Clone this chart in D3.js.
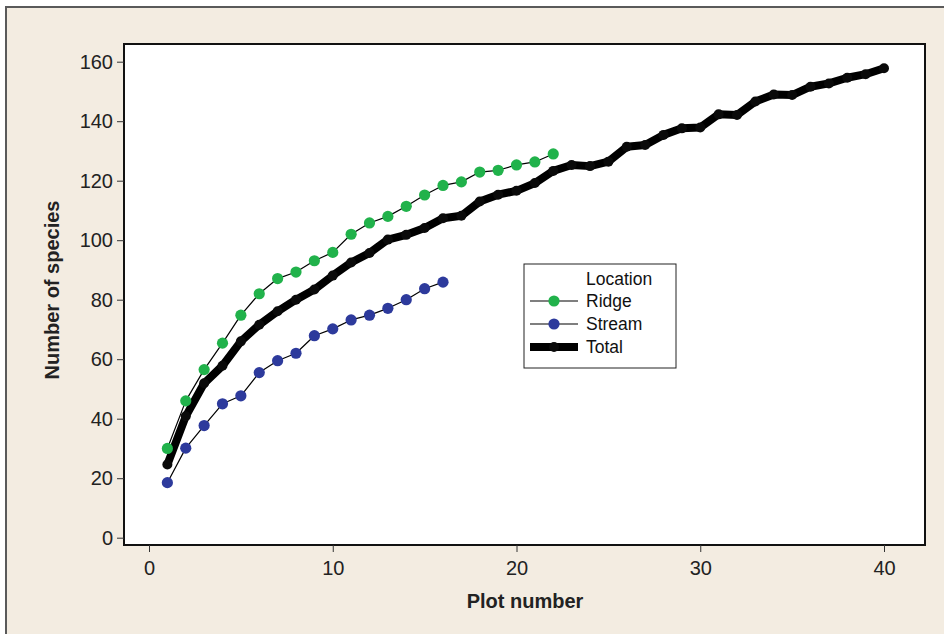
<!DOCTYPE html>
<html>
<head>
<meta charset="utf-8">
<script src="https://cdn.jsdelivr.net/npm/d3@7"></script>
<style>
  html, body { margin: 0; padding: 0; background: #fff; }
  svg { display: block; }
  .tick text { font-family: "Liberation Sans", Arial, sans-serif; font-size: 20px; fill: #222; }
  .axis-title { font-family: "Liberation Sans", Arial, sans-serif; font-size: 20px; font-weight: bold; fill: #222; }
  .legend text { font-family: "Liberation Sans", Arial, sans-serif; font-size: 17.5px; fill: #111; }
</style>
</head>
<body>
<div id="chart"></div>
<script>
// plot numbers
const ridgePlots = d3.range(1, 23);
const streamPlots = d3.range(1, 17);
const totalPlots = d3.range(1, 41);

// cumulative species counts
const ridgeValues = [30, 46, 56.5, 65.4, 74.8, 82, 87.1, 89.3, 93.1, 95.9, 102, 105.8,
  108, 111.4, 115.2, 118.4, 119.6, 122.9, 123.5, 125.3, 126.3, 129];
const streamValues = [18.5, 30.1, 37.7, 45, 47.7, 55.5, 59.5, 62, 67.9, 70.2, 73.2, 74.8,
  77.1, 80, 83.7, 85.9];
const totalValues = [24.6, 40.8, 51.9, 57.8, 66, 71.6, 76.1, 80, 83.4, 88.1, 92.5, 95.7,
  100.2, 101.8, 104.1, 107.4, 108.2, 113, 115.3, 116.6, 119.2, 123.3, 125.3, 124.9,
  126.4, 131.4, 132, 135.4, 137.6, 137.9, 142.3, 142.1, 146.6, 149, 148.8, 151.6,
  152.7, 154.6, 155.8, 157.8];

const xTicks = [0, 10, 20, 30, 40];
const yTicks = [0, 20, 40, 60, 80, 100, 120, 140, 160];
const legendTitle = "Location";
const seriesNames = ["Ridge", "Stream", "Total"];

const width = 944, height = 634;
const frame = {left: 124, top: 44, right: 925, bottom: 545};

const svg = d3.select("#chart").append("svg")
  .attr("width", width)
  .attr("height", height)
  .attr("viewBox", `0 0 ${width} ${height}`);

// page background + border
svg.append("rect").attr("x", 0).attr("y", 0).attr("width", width).attr("height", height)
  .attr("fill", "#ffffff");
svg.append("rect").attr("x", 6).attr("y", 7).attr("width", width + 10).attr("height", height + 10)
  .attr("fill", "#f3ece1").attr("stroke", "#5a5a5a").attr("stroke-width", 2);

// scales: 0 -> 149px, 40 -> 884px ; 0 -> 537.7px, 160 -> 61.7px
const x = d3.scaleLinear().domain([0, 40]).range([149, 884]);
const y = d3.scaleLinear().domain([0, 160]).range([537.7, 61.7]);

svg.append("rect")
  .attr("x", frame.left).attr("y", frame.top)
  .attr("width", frame.right - frame.left).attr("height", frame.bottom - frame.top)
  .attr("fill", "#fff").attr("stroke", "#111").attr("stroke-width", 2);

const xAxis = svg.append("g")
  .attr("transform", `translate(0,${frame.bottom})`)
  .call(d3.axisBottom(x).tickValues(xTicks).tickSize(7).tickPadding(9).tickFormat(d3.format("d")));
xAxis.select(".domain").remove();
xAxis.selectAll(".tick line").attr("stroke", "#333");

const yAxis = svg.append("g")
  .attr("transform", `translate(${frame.left},0)`)
  .call(d3.axisLeft(y).tickValues(yTicks).tickSize(7).tickPadding(4).tickFormat(d3.format("d")));
yAxis.select(".domain").remove();
yAxis.selectAll(".tick line").attr("stroke", "#333");

svg.append("text").attr("class", "axis-title")
  .attr("x", 525).attr("y", 608).attr("text-anchor", "middle")
  .text("Plot number");
svg.append("text").attr("class", "axis-title")
  .attr("transform", "translate(59,290) rotate(-90)").attr("text-anchor", "middle")
  .text("Number of species");

const line = d3.line().x(d => x(d[0])).y(d => y(d[1]));

const series = [
  {name: seriesNames[0], pts: d3.zip(ridgePlots, ridgeValues), color: "#21b24b", lw: 1.2, r: 5.6},
  {name: seriesNames[1], pts: d3.zip(streamPlots, streamValues), color: "#2d3a9c", lw: 1.2, r: 5.6},
  {name: seriesNames[2], pts: d3.zip(totalPlots, totalValues), color: "#0a0a0a", lw: 8, r: 5}
];

// total underneath, the two locations on top
const order = [series[2], series[1], series[0]];
order.forEach(s => {
  const g = svg.append("g");
  g.append("path").datum(s.pts)
    .attr("d", line)
    .attr("fill", "none")
    .attr("stroke", "#000")
    .attr("stroke-width", s.lw)
    .attr("stroke-linejoin", "round");
  g.selectAll("circle").data(s.pts).join("circle")
    .attr("cx", d => x(d[0])).attr("cy", d => y(d[1]))
    .attr("r", s.r).attr("fill", s.color);
});

// legend
const lg = svg.append("g").attr("class", "legend");
lg.append("rect").attr("x", 524).attr("y", 264).attr("width", 152).attr("height", 104)
  .attr("fill", "#fff").attr("stroke", "#222").attr("stroke-width", 1);
lg.append("text").attr("x", 586).attr("y", 285).text(legendTitle);
series.forEach((s, i) => {
  const yy = 301 + i * 23;
  lg.append("line").attr("x1", 530).attr("x2", 578).attr("y1", yy).attr("y2", yy)
    .attr("stroke", "#000").attr("stroke-width", s.lw);
  lg.append("circle").attr("cx", 554).attr("cy", yy).attr("r", s.r).attr("fill", s.color);
  lg.append("text").attr("x", 586).attr("y", yy + 6).text(s.name);
});
</script>
</body>
</html>
